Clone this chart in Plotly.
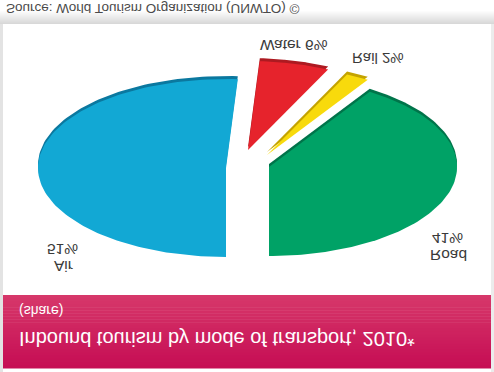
import numpy as np
import plotly.graph_objects as go

# ---- data ----
categories = ["Road", "Rail", "Water", "Air"]
shares = [41, 2, 6, 51]          # % share, clockwise from 12 o'clock
colors = ["#00a266", "#f8da0c", "#e6232c", "#12a8d4"]
edge_colors = ["#00744a", "#c4a300", "#ad1a21", "#0b789f"]
title_text = "Inbound tourism by mode of transport, 2010*"
subtitle_text = "(share)"
source_text = "Source: World Tourism Organization (UNWTO) \u00a9"

# ---- geometry / style (pixel units, y measured from bottom of figure) ----
W, H = 494, 372
cx, cy, ra, rb = 247, 167, 188, 89
explode = {"Road": (22, 0), "Rail": (20, -12), "Water": (1, -17), "Air": (-21, 1)}
depth = 3
font = "Liberation Sans, Arial, sans-serif"

fig = go.Figure()

# slices drawn as elliptical wedges from the share values
tot = float(sum(shares))
bounds = np.concatenate([[0], np.cumsum(shares)]) / tot * 360.0
wedges = []
for i, cat in enumerate(categories):
    th = np.radians(np.linspace(bounds[i], bounds[i + 1], 120))
    ox, oy = explode[cat]
    px = cx + ox
    py = cy + oy
    xs = np.concatenate([[px], px + ra * np.sin(th), [px]])
    ys = np.concatenate([[py], py + rb * np.cos(th), [py]])
    wedges.append((xs, ys))

for (xs, ys), ec in zip(wedges, edge_colors):
    fig.add_trace(go.Scatter(x=xs, y=ys - depth, fill="toself", fillcolor=ec,
                             mode="lines", line=dict(width=0, color=ec),
                             hoverinfo="skip", showlegend=False))
for (xs, ys), c, cat in zip(wedges, colors, categories):
    fig.add_trace(go.Scatter(x=xs, y=ys, fill="toself", fillcolor=c,
                             mode="lines", line=dict(width=0, color=c),
                             name=cat, hoverinfo="skip", showlegend=False))

# ---- background shapes ----
shapes = []
def hexmix(c1, c2, t):
    a = np.array([int(c1[i:i + 2], 16) for i in (1, 3, 5)])
    b = np.array([int(c2[i:i + 2], 16) for i in (1, 3, 5)])
    m = np.round(a + (b - a) * t).astype(int)
    return "#%02x%02x%02x" % tuple(m)

# soft shadow above panel
for k in range(14):
    y0 = 10 + k
    shapes.append(dict(type="rect", x0=0, x1=W, y0=y0, y1=y0 + 1, line_width=0,
                       fillcolor=hexmix("#ffffff", "#d8d8d8", k / 13), layer="below"))
shapes.append(dict(type="rect", x0=0, x1=3, y0=24, y1=H, line_width=0,
                   fillcolor="#e3e3e3", layer="below"))
shapes.append(dict(type="rect", x0=491, x1=W, y0=24, y1=H, line_width=0,
                   fillcolor="#ececec", layer="below"))
shapes.append(dict(type="rect", x0=3, x1=491, y0=24, y1=295, line_width=0,
                   fillcolor="#ffffff", layer="below"))
# title band gradient
nb = 24
for k in range(nb):
    y0 = 295 + (368 - 295) * k / nb
    y1 = 295 + (368 - 295) * (k + 1) / nb + 0.5
    shapes.append(dict(type="rect", x0=3, x1=491, y0=y0, y1=y1, line_width=0,
                       fillcolor=hexmix("#d6376a", "#c60e54", k / (nb - 1)), layer="below"))

# ---- labels ----
lab_col = "#3a3a3a"
ann = []
def A(x, y, t, size, color=lab_col, xanchor="center"):
    ann.append(dict(x=x, y=y, xref="x", yref="y", text=t, showarrow=False,
                    xanchor=xanchor, yanchor="middle",
                    font=dict(family=font, size=size, color=color)))

pct = {c: f"{s}%" for c, s in zip(categories, shares)}
A(294, 45.5, f"Water {pct['Water']}", 15.5)
A(378, 59, f"Rail {pct['Rail']}", 15)
A(62, 250, pct["Air"], 15.5)
A(63, 267, "Air", 15.5)
A(447, 239, pct["Road"], 15.5)
A(448, 256, "Road", 15.5)
A(17, 339.5, title_text, 20, color="#ffffff", xanchor="left")
A(17, 311, subtitle_text, 14, color="#ffffff", xanchor="left")
A(4, 9, source_text, 13.5, color="#4a4a4a", xanchor="left")

fig.update_layout(
    width=W, height=H, margin=dict(l=0, r=0, t=0, b=0),
    paper_bgcolor="#ffffff", plot_bgcolor="#ffffff",
    xaxis=dict(range=[0, W], visible=False, fixedrange=True),
    yaxis=dict(range=[0, H], visible=False, fixedrange=True),
    shapes=shapes, annotations=ann, showlegend=False,
)

post = ("var d=document.getElementById('{plot_id}');"
        "d.style.transform='scaleY(-1)';"
        "document.body.style.margin='0';"
        "document.body.style.overflow='hidden';")
fig.write_html("out.html", post_script=post, config={"displayModeBar": False})
